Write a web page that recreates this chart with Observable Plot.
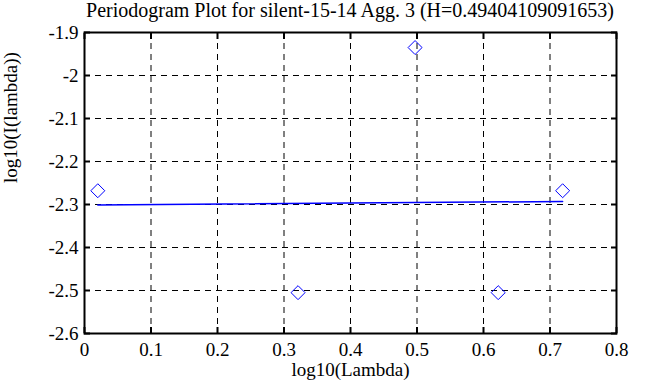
<!DOCTYPE html>
<html>
<head>
<meta charset="utf-8">
<script src="https://cdn.jsdelivr.net/npm/d3@7"></script>
<script src="https://cdn.jsdelivr.net/npm/@observablehq/plot@0.6"></script>
<style>
  html, body { margin: 0; padding: 0; background: #fff; }
  #title { width: 658px; height: 14px; overflow: visible; position: relative; z-index: 1; font-family: "Liberation Serif", "Times New Roman", Times, serif; font-size: 20px; line-height: 20px; color: #000; }
  #title span { display: block; position: relative; left: 84px; width: 532px; text-align: center; white-space: nowrap; }
  #chart svg text { font-family: "Liberation Serif", "Times New Roman", Times, serif !important; }
</style>
</head>
<body>
<div id="title"><span>Periodogram Plot for silent-15-14 Agg. 3 (H=0.49404109091653)</span></div>
<div id="chart"></div>
<script>
// Periodogram points (log10 frequency vs log10 periodogram)
const logLambda = [0.0200, 0.3211, 0.4971, 0.6221, 0.7190];
const logI = [-2.268, -2.505, -1.935, -2.505, -2.268];
// Least-squares fit line endpoints
const fitX = [0.0200, 0.7190];
const fitY = [-2.3009, -2.2930];
// Axis ticks
const xTicks = [0, 0.1, 0.2, 0.3, 0.4, 0.5, 0.6, 0.7, 0.8];
const yTicks = [-2.6, -2.5, -2.4, -2.3, -2.2, -2.1, -2, -1.9];

const points = logLambda.map((x, i) => ({x, y: logI[i]}));
const fit = fitX.map((x, i) => ({x, y: fitY[i]}));

const font = '"Liberation Serif", "Times New Roman", Times, serif';
const W = 658, H = 373;

const plot = Plot.plot({
  width: W,
  height: H,
  marginLeft: 84,
  marginRight: 42,
  marginTop: 18,
  marginBottom: 54,
  style: {fontFamily: font, fontSize: "19px", background: "transparent", color: "#000"},
  x: {domain: [0, 0.8], ticks: xTicks, label: null},
  y: {domain: [-2.6, -1.9], ticks: yTicks, label: null},
  marks: [
    // dashed grid
    Plot.ruleX(xTicks.slice(1, -1), {stroke: "#000", strokeWidth: 1, strokeDasharray: "6,5"}),
    Plot.ruleY(yTicks.slice(1, -1), {stroke: "#000", strokeWidth: 1, strokeDasharray: "6,5"}),
    // tick labels
    Plot.axisX({ticks: xTicks, tickSize: 0, tickPadding: 9, tickFormat: d => String(d), fontSize: 19, fontFamily: font, label: null}),
    Plot.axisY({ticks: yTicks, tickSize: 0, tickPadding: 6, tickFormat: d => String(d), fontSize: 19, fontFamily: font, label: null}),
    // inward ticks
    Plot.axisX({ticks: xTicks, anchor: "bottom", tickSize: -6, tickFormat: () => "", strokeWidth: 2, label: null}),
    Plot.axisX({ticks: xTicks, anchor: "top", tickSize: -6, tickFormat: () => "", strokeWidth: 2, label: null}),
    Plot.axisY({ticks: yTicks, anchor: "left", tickSize: -6, tickFormat: () => "", strokeWidth: 2, label: null}),
    Plot.axisY({ticks: yTicks, anchor: "right", tickSize: -6, tickFormat: () => "", strokeWidth: 2, label: null}),
    Plot.frame({stroke: "#000", strokeWidth: 2}),
    // fit line
    Plot.line(fit, {x: "x", y: "y", stroke: "#0000ff", strokeWidth: 1.5}),
    // data points
    Plot.dot(points, {x: "x", y: "y", symbol: "diamond2", r: 6.3, stroke: "#0000ff", strokeWidth: 1, fill: "none"}),
    // axis titles
    Plot.text(["log10(Lambda)"], {frameAnchor: "bottom", dy: 42, fontSize: 19, fontFamily: font, text: d => d}),
    Plot.text(["log10(I(lambda))"], {frameAnchor: "left", dx: -74, rotate: -90, fontSize: 19, fontFamily: font, text: d => d})
  ]
});
document.getElementById("chart").appendChild(plot);
</script>
</body>
</html>
